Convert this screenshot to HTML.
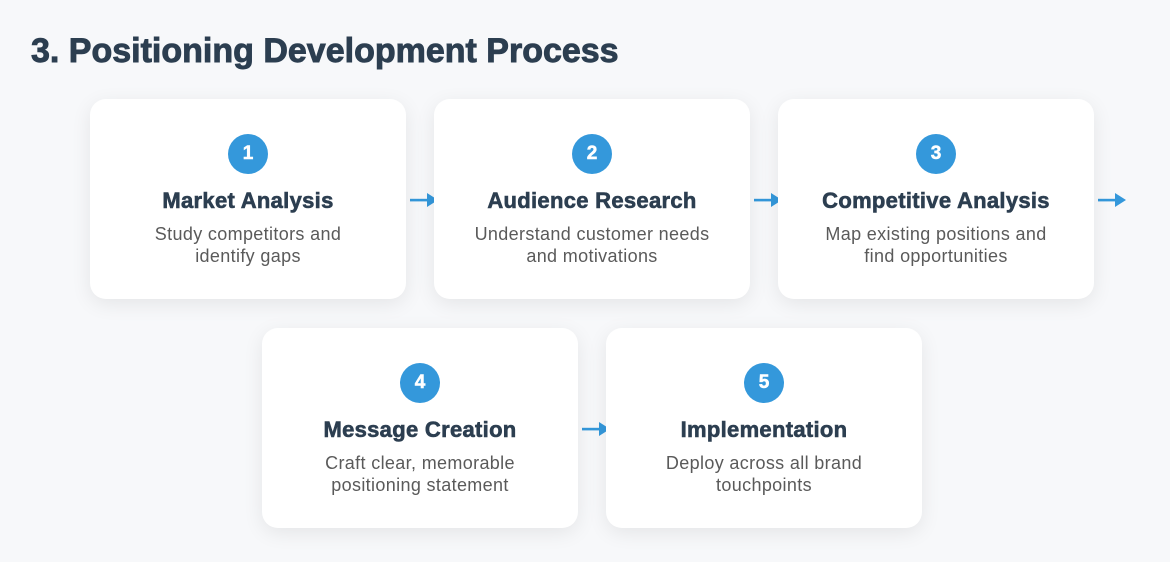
<!DOCTYPE html>
<html>
<head>
<meta charset="utf-8">
<style>
  html, body { margin:0; padding:0; }
  body {
    width:1170px; height:562px; overflow:hidden;
    background:#f7f8fa;
    font-family:"Liberation Sans", "DejaVu Sans", sans-serif;
    position:relative;
  }
  h1 {
    position:absolute; left:31px; top:28px; margin:0;
    font-size:34px; font-weight:bold; color:#2c3e50;
    line-height:46px; white-space:nowrap;
    -webkit-text-stroke:0.9px #2c3e50;
  }
  .arrow { position:absolute; width:30px; height:16px; z-index:1; }
  .card {
    position:absolute; width:316px; height:200px;
    background:#ffffff; border-radius:16px;
    box-shadow:0 5px 20px rgba(0,0,0,0.08);
    z-index:2;
  }
  .num {
    position:absolute; left:138px; top:35px; width:40px; height:40px;
    border-radius:50%; background:#3498db; color:#fff;
    font-weight:bold; font-size:19px; line-height:40px; text-align:center;
    -webkit-text-stroke:0.5px #fff;
  }
  .title {
    position:absolute; left:0; right:0; top:88px;
    text-align:center; font-weight:bold; font-size:22px; line-height:28px;
    color:#2c3e50; letter-spacing:0.3px; white-space:nowrap;
    -webkit-text-stroke:0.6px #2c3e50;
  }
  .desc {
    position:absolute; left:0; right:0; top:124px;
    text-align:center; font-size:18px; line-height:22px;
    color:#5a5a5a; letter-spacing:0.35px;
  }
</style>
</head>
<body>
<h1>3. Positioning Development Process</h1>

<svg class="arrow" style="left:410px;top:192px" viewBox="0 0 30 16"><rect x="0" y="6.8" width="19" height="2.6" fill="#3498db"/><polygon points="17,1 28,8 17,15" fill="#3498db"/></svg>
<svg class="arrow" style="left:754px;top:192px" viewBox="0 0 30 16"><rect x="0" y="6.8" width="19" height="2.6" fill="#3498db"/><polygon points="17,1 28,8 17,15" fill="#3498db"/></svg>
<svg class="arrow" style="left:1098px;top:192px" viewBox="0 0 30 16"><rect x="0" y="6.8" width="19" height="2.6" fill="#3498db"/><polygon points="17,1 28,8 17,15" fill="#3498db"/></svg>
<svg class="arrow" style="left:582px;top:421px" viewBox="0 0 30 16"><rect x="0" y="6.8" width="19" height="2.6" fill="#3498db"/><polygon points="17,1 28,8 17,15" fill="#3498db"/></svg>

<div class="card" style="left:90px;top:99px">
  <div class="num">1</div>
  <div class="title">Market Analysis</div>
  <div class="desc">Study competitors and<br>identify gaps</div>
</div>
<div class="card" style="left:434px;top:99px">
  <div class="num">2</div>
  <div class="title">Audience Research</div>
  <div class="desc">Understand customer needs<br>and motivations</div>
</div>
<div class="card" style="left:778px;top:99px">
  <div class="num">3</div>
  <div class="title">Competitive Analysis</div>
  <div class="desc">Map existing positions and<br>find opportunities</div>
</div>
<div class="card" style="left:262px;top:328px">
  <div class="num">4</div>
  <div class="title">Message Creation</div>
  <div class="desc">Craft clear, memorable<br>positioning statement</div>
</div>
<div class="card" style="left:606px;top:328px">
  <div class="num">5</div>
  <div class="title">Implementation</div>
  <div class="desc">Deploy across all brand<br>touchpoints</div>
</div>
</body>
</html>
